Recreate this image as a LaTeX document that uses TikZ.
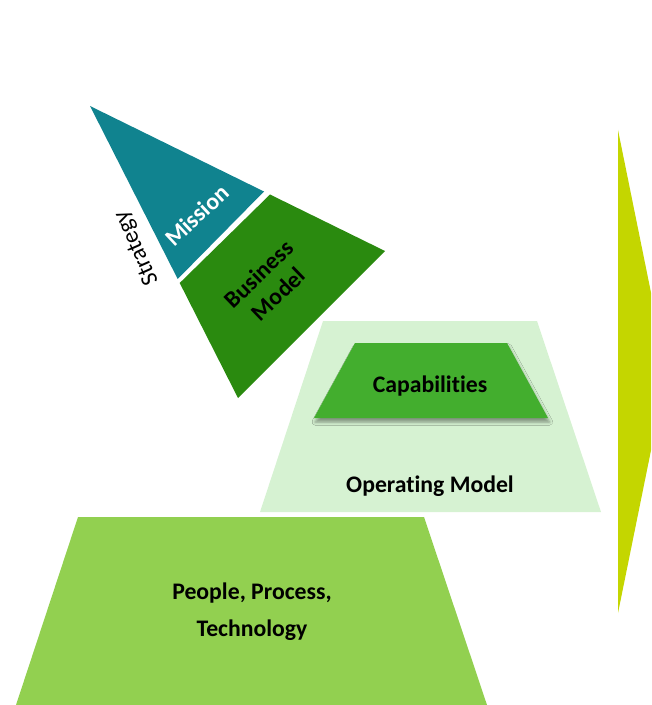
\documentclass[tikz,border=0pt]{standalone}
\usepackage{fontspec}
\setmainfont{Carlito}[Ligatures=NoCommon]
\usetikzlibrary{positioning,shadows.blur}

\definecolor{missionteal}{HTML}{10838F}
\definecolor{bizgreen}{HTML}{2A8A0F}
\definecolor{capgreen}{HTML}{43AE2E}
\definecolor{opgreen}{HTML}{D6F2D2}
\definecolor{pptgreen}{HTML}{92D050}
\definecolor{arrowlime}{HTML}{C4D600}

\begin{document}
\begin{tikzpicture}[x=0.75pt, y=-0.75pt, node distance=75pt,
    layer text/.style={font=\bfseries\fontsize{17.8}{21}\selectfont, align=center},
    side text/.style={font=\fontsize{17.8}{21}\selectfont}]
  \tikzstyle{every node}=[inner sep=0pt]
  \useasboundingbox (0,0) rectangle (651,705);

  % the big arrow, cut by the page edge
  \begin{scope}
    \clip (0,0) rectangle (651,705);
    \fill[arrowlime] (618,130) -- (667,371.5) -- (618,613) -- cycle;
  \end{scope}

  % strategy triangle
  \fill[missionteal] (90,106) -- (264,191.5) -- (177.7,279) -- cycle;
  \fill[bizgreen] (270,194.5) -- (385,251) -- (238,398) -- (179.7,283) -- cycle;

  % operating model and capabilities
  \fill[opgreen] (323,321) -- (537,321) -- (601,512) -- (260,512) -- cycle;
  \fill[capgreen, blur shadow={shadow xshift=1pt, shadow yshift=-3pt, shadow blur radius=2.5pt, shadow opacity=40}]
    (355,343) -- (507,343) -- (548,418) -- (314,418) -- cycle;

  % foundation
  \fill[pptgreen] (78,517) -- (424,517) -- (487,705) -- (16,705) -- cycle;

  \node[layer text, text=white, rotate=43] (mission) at (197,215) {Mission};
  \node[layer text, rotate=44] (bizmodel) at (268.5,284) {Business\\Model};
  \node[side text, rotate=114] (strategy) at (137,248) {Strategy};

  \node[layer text] (cap) at (430,386) {Capabilities};
  \node[layer text] (opmodel) [below of=cap] {Operating Model};

  \node[layer text, font=\bfseries\fontsize{17.8}{27.75}\selectfont] (ppt) at (252,611.5) {People, Process,\\Technology};
\end{tikzpicture}
\end{document}
